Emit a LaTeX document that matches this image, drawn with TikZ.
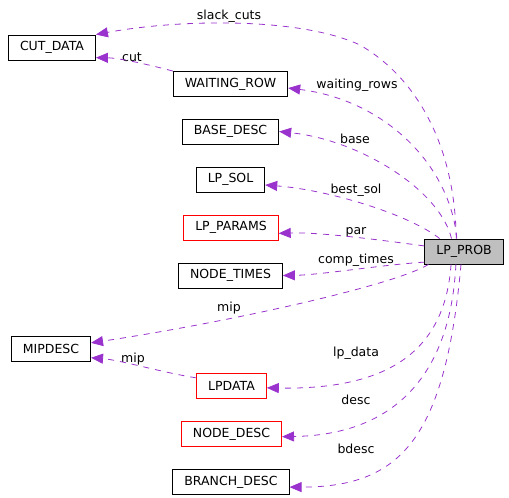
\documentclass[tikz,border=0pt]{standalone}
\usepackage{fontspec}
\setmainfont{DejaVu Sans}
\usetikzlibrary{arrows.meta}
\definecolor{edgecol}{HTML}{9A32CD}
\definecolor{probfill}{HTML}{BFBFBF}
\tikzset{every node/.style={font=\fontsize{12.5}{14}\selectfont, inner sep=0pt},
  cls/.style={draw=black, line width=0.9pt, inner xsep=11.5pt, minimum height=25pt},
  clsred/.style={cls, draw=red},
  usage/.style={draw=edgecol, line width=0.8pt, dash pattern=on 6pt off 6pt,
    -{Triangle[length=12pt,width=10pt,fill=edgecol]}}}

\begin{document}
\begin{tikzpicture}[x=1pt,y=-1pt]
   \useasboundingbox (0,0) rectangle (509,498);
   % classes
   \node[cls, fill=probfill] (prob) at (464,251.5) {LP\_PROB};
   \node[cls]    (cutdata) at (52,47.5)   {CUT\_DATA};
   \node[cls]    (wait)    at (230.5,84)  {WAITING\_ROW};
   \node[cls]    (base)    at (230.5,131.5) {BASE\_DESC};
   \node[cls]    (lpsol)   at (230.5,179.5) {LP\_SOL};
   \node[clsred] (params)  at (231,227.5) {LP\_PARAMS};
   \node[cls]    (times)   at (230.5,275.5) {NODE\_TIMES};
   \node[cls]    (mip)     at (51,348.5)  {MIPDESC};
   \node[clsred] (lpdata)  at (231.5,386) {LPDATA};
   \node[clsred] (ndesc)   at (231.5,434) {NODE\_DESC};
   \node[cls]    (bdesc)   at (231,482)   {BRANCH\_DESC};
   % member names
   \node (lslack) at (229,16)  {slack\_cuts};
   \node (lcut)   at (132,57)  {cut};
   \node (lwait)  at (357,85)  {waiting\_rows};
   \node (lbase)  at (355,139) {base};
   \node (lsol)   at (356,190) {best\_sol};
   \node (lpar)   at (356,232) {par};
   \node (ltimes) at (356,260) {comp\_times};
   \node (lmip)   at (229,308) {mip};
   \node (lmip2)  at (133,359) {mip};
   \node (llp)    at (356,353) {lp\_data};
   \node (ldesc)  at (356,400) {desc};
   \node (lbdesc) at (356,449) {bdesc};
   % usage edges
   \draw[usage] (prob.121) .. controls (455,150) and (420,80) .. (360,45)
                           .. controls (300,17) and (180,19) .. (cutdata.north east);
   \draw[usage] (wait.north west) .. controls (150,65) and (120,58) .. (cutdata.-13);
   \draw[usage] (prob.119) .. controls (450,165) and (385,100) .. (wait.-4);
   \draw[usage] (prob.134) .. controls (440,190) and (360,140) .. (base.east);
   \draw[usage] (prob.152) .. controls (410,215) and (330,190) .. (lpsol.-9);
   \draw[usage] (prob.172) .. controls (380,240) and (320,232) .. (params.-7);
   \draw[usage] (prob.195) .. controls (380,265) and (320,275) .. (times.east);
   \draw[usage] (prob.200) .. controls (395,285) and (230,322) .. (mip.8);
   \draw[usage] (lpdata.167) .. controls (160,372) and (120,360) .. (mip.-13);
   \draw[usage] (prob.-135) .. controls (445,350) and (390,390) .. (lpdata.-3);
   \draw[usage] (prob.-122) .. controls (450,380) and (390,435) .. (ndesc.-3);
   \draw[usage] (prob.-103) .. controls (445,440) and (400,487) .. (bdesc.-5);
\end{tikzpicture}
\end{document}
